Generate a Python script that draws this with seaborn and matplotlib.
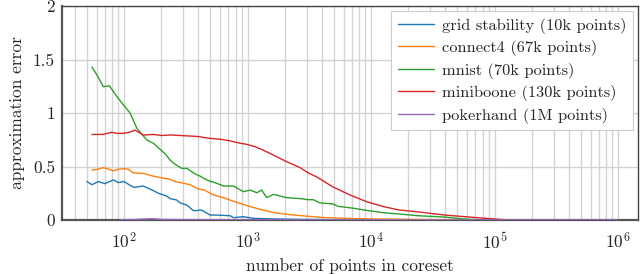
import numpy as np
import pandas as pd
import seaborn as sns
import matplotlib.pyplot as plt
from matplotlib.ticker import LogLocator, FuncFormatter, NullFormatter

# coreset sizes and approximation errors, one pair per dataset
grid_x = [50, 55, 62, 70, 82, 90, 100, 110, 120, 143, 173, 190, 221, 236, 267, 284,
          322, 365, 425, 496, 600, 722, 768, 925, 1110, 1400, 1830, 2500, 4000, 6000, 10000]
grid_y = [0.36, 0.33, 0.36, 0.34, 0.375, 0.35, 0.36, 0.33, 0.305, 0.318, 0.274, 0.25,
          0.224, 0.2, 0.187, 0.16, 0.14, 0.087, 0.093, 0.047, 0.045, 0.04, 0.022, 0.031,
          0.016, 0.012, 0.009, 0.006, 0.004, 0.003, 0.002]

c4_x = [55, 62, 68, 75, 82, 90, 99, 108, 119, 143, 173, 200, 228, 267, 300, 342, 399,
        450, 496, 560, 637, 768, 985, 1260, 1620, 2200, 3100, 3860, 6750, 10000, 20000,
        40000, 67000]
c4_y = [0.467, 0.475, 0.49, 0.475, 0.46, 0.475, 0.48, 0.475, 0.44, 0.436, 0.41, 0.395,
        0.385, 0.355, 0.345, 0.33, 0.29, 0.28, 0.25, 0.225, 0.21, 0.175, 0.135, 0.1, 0.07,
        0.05, 0.035, 0.025, 0.014, 0.01, 0.006, 0.003, 0.001]

mnist_x = [55, 60, 68, 76, 88, 99, 112, 127, 140, 153, 173, 196, 215, 236, 260, 293, 322,
           376, 413, 467, 563, 637, 768, 925, 1050, 1190, 1300, 1430, 1620, 2070, 2660,
           3100, 3400, 3860, 4900, 5400, 7200, 9200, 12600, 17000, 24000, 39000, 59000, 70000]
mnist_y = [1.43, 1.36, 1.246, 1.255, 1.15, 1.075, 1.0, 0.857, 0.8, 0.748, 0.717, 0.66,
           0.62, 0.56, 0.52, 0.483, 0.483, 0.43, 0.41, 0.374, 0.343, 0.318, 0.318, 0.265,
           0.28, 0.255, 0.28, 0.209, 0.24, 0.209, 0.2, 0.19, 0.19, 0.16, 0.15, 0.128, 0.11,
           0.09, 0.068, 0.056, 0.04, 0.028, 0.008, 0.004]

mb_x = [55, 68, 79, 88, 99, 110, 123, 143, 173, 202, 240, 284, 342, 400, 496, 600, 722,
        850, 985, 1150, 1300, 1620, 2070, 2660, 3100, 3600, 4900, 6750, 9200, 12600, 17000,
        24000, 39000, 72000, 110000, 120000]
mb_y = [0.8, 0.8, 0.82, 0.81, 0.81, 0.82, 0.84, 0.794, 0.8, 0.79, 0.795, 0.79, 0.785,
        0.78, 0.763, 0.755, 0.74, 0.72, 0.707, 0.685, 0.66, 0.607, 0.545, 0.49, 0.44, 0.405,
        0.31, 0.234, 0.171, 0.125, 0.093, 0.076, 0.047, 0.022, 0.006, 0.004]

poker_x = [93, 120, 150, 170, 200, 300, 1000, 10000, 100000, 1000000]
poker_y = [0.003, 0.005, 0.01, 0.012, 0.006, 0.004, 0.002, 0.001, 0.001, 0.001]

labels = ["grid stability (10k points)", "connect4 (67k points)", "mnist (70k points)",
          "miniboone (130k points)", "pokerhand (1M points)"]
series = [(grid_x, grid_y), (c4_x, c4_y), (mnist_x, mnist_y), (mb_x, mb_y), (poker_x, poker_y)]

df = pd.concat([pd.DataFrame({"size": x, "error": y, "dataset": lab})
                for lab, (x, y) in zip(labels, series)], ignore_index=True)

sns.set_theme(style="whitegrid")
plt.rcParams["font.family"] = ["cmr10", "DejaVu Serif"]
plt.rcParams["mathtext.fontset"] = "cm"
plt.rcParams["axes.formatter.use_mathtext"] = True

fig = plt.figure(figsize=(6.4, 2.74), dpi=100)
ax = fig.add_axes([0.097, 0.197, 0.9, 0.781])

sns.lineplot(data=df, x="size", y="error", hue="dataset", palette="tab10",
             linewidth=1.0, ax=ax, estimator=None, sort=False, zorder=3)

ax.set_xscale("log")
ax.set_xlim(31.5, 1.45e6)
ax.set_ylim(0, 2)
ax.set_yticks([0, 0.5, 1, 1.5, 2])
ax.yaxis.set_major_formatter(FuncFormatter(lambda v, p: "%g" % v))
ax.xaxis.set_major_locator(LogLocator(base=10, numticks=10))
ax.xaxis.set_minor_locator(LogLocator(base=10, subs=np.arange(2, 10), numticks=20))
ax.xaxis.set_minor_formatter(NullFormatter())

ax.grid(True, which="major", color="#d3d3d3", linewidth=1.0)
ax.grid(True, which="minor", axis="x", color="#d3d3d3", linewidth=1.0)
ax.set_axisbelow(True)

for side in ["left", "bottom"]:
    ax.spines[side].set_color("#555555")
    ax.spines[side].set_linewidth(1.6)
for side in ["top", "right"]:
    ax.spines[side].set_color("#444444")
    ax.spines[side].set_linewidth(1.0)

ax.tick_params(axis="both", which="major", labelsize=12.5, length=3, width=0.8,
               direction="in", color="#444444", pad=5)
ax.tick_params(axis="x", which="minor", length=2, width=0.6, direction="in", color="#444444")
ax.tick_params(axis="x", which="major", pad=8)

ax.set_xlabel("number of points in coreset", fontsize=12.5, labelpad=5)
ax.set_ylabel("approximation error", fontsize=12.5, labelpad=6)

handles, labs = ax.get_legend_handles_labels()
leg = ax.legend(handles, labs, loc="upper right", fontsize=11.8, frameon=True,
                fancybox=False, edgecolor="#cccccc", framealpha=1.0,
                handlelength=2.2, handletextpad=0.5, labelspacing=0.4,
                borderpad=0.4, borderaxespad=0.3)
leg.get_frame().set_linewidth(0.8)

fig.savefig("out.png", dpi=100)
